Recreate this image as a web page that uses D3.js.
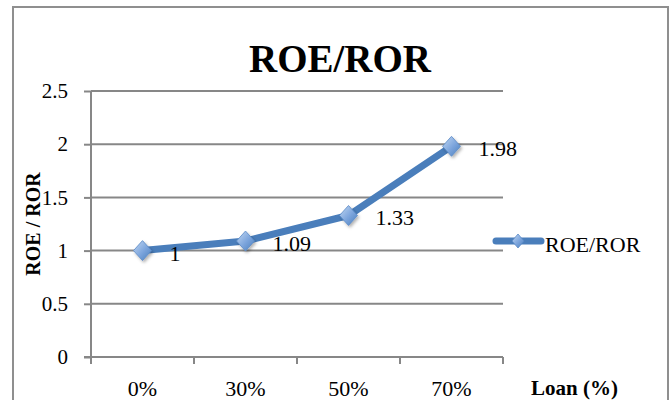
<!DOCTYPE html>
<html>
<head>
<meta charset="utf-8">
<script src="https://cdn.jsdelivr.net/npm/d3@7"></script>
<style>
  html, body { margin: 0; padding: 0; background: #fff; }
  svg { display: block; }
  text { font-family: "Liberation Serif", "Times New Roman", serif; fill: #000; }
</style>
</head>
<body>
<svg id="chart" width="669" height="400"></svg>
<script>
const categories = ["0%", "30%", "50%", "70%"];
const seriesName = "ROE/ROR";
const values = [1, 1.09, 1.33, 1.98];
const valueLabels = ["1", "1.09", "1.33", "1.98"];
const yTicks = [0, 0.5, 1, 1.5, 2, 2.5];
const yTickLabels = ["0", "0.5", "1", "1.5", "2", "2.5"];
const titleText = "ROE/ROR";
const yTitle = "ROE / ROR";
const xTitle = "Loan (%)";

const svg = d3.select("#chart");
const gridColor = "#878787";
const lineColor = "#4a7ebb";

// outer border
svg.append("rect").attr("x", 13).attr("y", 7).attr("width", 655).attr("height", 410)
  .attr("fill", "#fff").attr("stroke", "#8f8f8f").attr("stroke-width", 2);

// defs
const defs = svg.append("defs");
const grad = defs.append("linearGradient").attr("id", "mk").attr("x1", "0").attr("y1", "0").attr("x2", "1").attr("y2", "1");
grad.append("stop").attr("offset", "0%").attr("stop-color", "#c4d9f3");
grad.append("stop").attr("offset", "55%").attr("stop-color", "#7ba4dc");
grad.append("stop").attr("offset", "100%").attr("stop-color", "#4a7ebb");
const flt = defs.append("filter").attr("id", "sh").attr("x", "-50%").attr("y", "-50%").attr("width", "200%").attr("height", "200%");
flt.append("feDropShadow").attr("dx", 1.5).attr("dy", 2).attr("stdDeviation", 1.5).attr("flood-color", "#000").attr("flood-opacity", 0.3);

const x = d3.scaleBand().domain(categories).range([91, 503]).padding(0);
const y = d3.scaleLinear().domain([0, 2.5]).range([357, 91]);

// gridlines
svg.append("g").selectAll("line").data(yTicks.filter(d => d > 0)).join("line")
  .attr("x1", 91).attr("x2", 503)
  .attr("y1", d => y(d)).attr("y2", d => y(d))
  .attr("stroke", gridColor).attr("stroke-width", 2);

// y axis
const yAxis = svg.append("g").attr("transform", "translate(91,0)")
  .call(d3.axisLeft(y).tickValues(yTicks).tickFormat((d, i) => yTickLabels[i]).tickSize(7).tickPadding(16));
yAxis.select(".domain").attr("stroke", gridColor).attr("stroke-width", 2).attr("d", `M0,${y(2.5)}V${y(0)}`);
yAxis.selectAll(".tick line").attr("stroke", gridColor).attr("stroke-width", 2);
yAxis.selectAll(".tick text").attr("font-size", 21).attr("font-family", "Liberation Serif").attr("fill", "#000");

// x axis: baseline + boundary ticks
const xAxisG = svg.append("g");
xAxisG.append("line").attr("x1", 84).attr("x2", 503).attr("y1", y(0)).attr("y2", y(0))
  .attr("stroke", gridColor).attr("stroke-width", 2);
const bounds = categories.map(c => x(c)).concat([x.range()[1]]);
xAxisG.selectAll("line.tk").data(bounds).join("line").attr("class", "tk")
  .attr("x1", d => d).attr("x2", d => d).attr("y1", y(0)).attr("y2", y(0) + 7)
  .attr("stroke", gridColor).attr("stroke-width", 2);
const xAxis = svg.append("g").attr("transform", `translate(0,${y(0)})`)
  .call(d3.axisBottom(x).tickSize(0).tickPadding(23));
xAxis.select(".domain").remove();
xAxis.selectAll(".tick text").attr("font-size", 22).attr("font-family", "Liberation Serif").attr("fill", "#000");

// line
const pts = categories.map((c, i) => [x(c) + x.bandwidth() / 2, y(values[i])]);
svg.append("path").datum(pts)
  .attr("d", d3.line())
  .attr("fill", "none").attr("stroke", lineColor).attr("stroke-width", 7)
  .attr("stroke-linejoin", "round").attr("stroke-linecap", "round");

// markers
const diamond = (w, h) => `M0,${-h}L${w},0L0,${h}L${-w},0Z`;
svg.append("g").selectAll("path").data(pts).join("path")
  .attr("transform", d => `translate(${d[0]},${d[1]})`)
  .attr("d", diamond(9, 10))
  .attr("fill", "url(#mk)").attr("stroke", "#5a8ac6").attr("stroke-width", 0.8)
  .attr("filter", "url(#sh)");

// data labels
svg.append("g").selectAll("text").data(pts).join("text")
  .attr("x", d => d[0] + 27).attr("y", d => d[1] + 10)
  .attr("font-size", 22)
  .text((d, i) => valueLabels[i]);

// title
svg.append("text").attr("x", 340).attr("y", 72).attr("text-anchor", "middle")
  .attr("font-size", 39).attr("font-weight", "bold").text(titleText);

// y title
svg.append("text").attr("transform", "translate(40,224) rotate(-90)")
  .attr("text-anchor", "middle").attr("font-size", 20).attr("font-weight", "bold").text(yTitle);

// x title
svg.append("text").attr("x", 531).attr("y", 395)
  .attr("font-size", 21).attr("font-weight", "bold").text(xTitle);

// legend
const lg = svg.append("g");
lg.append("line").attr("x1", 496).attr("x2", 541).attr("y1", 241).attr("y2", 241)
  .attr("stroke", lineColor).attr("stroke-width", 7).attr("stroke-linecap", "round");
lg.append("path").attr("transform", "translate(518,241)").attr("d", diamond(6, 7))
  .attr("fill", "url(#mk)").attr("stroke", "#5a8ac6").attr("stroke-width", 0.8);
lg.append("text").attr("x", 545).attr("y", 252).attr("font-size", 22).text(seriesName);
</script>
</body>
</html>
